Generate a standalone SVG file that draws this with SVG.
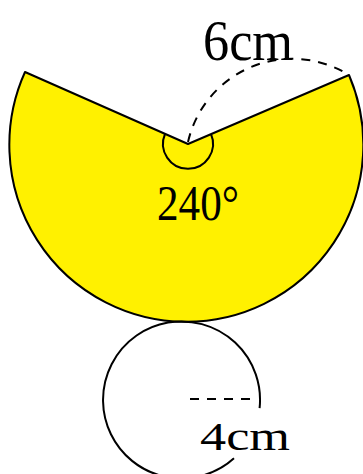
<svg xmlns="http://www.w3.org/2000/svg" width="363" height="474" viewBox="0 0 363 474">
<style>
.ln{fill:none;stroke:#000;stroke-width:2}
.ds{fill:none;stroke:#000;stroke-width:2;stroke-dasharray:9 8}
.t{font-family:"Liberation Serif","Times New Roman",serif;fill:#000}
</style>
<rect width="363" height="474" fill="#fff"/>
<g id="sector">
<path d="M 188 144 L 25 72 A 177 177 0 1 0 349 75 Z" fill="#FFF100" stroke="#000" stroke-width="2" stroke-linejoin="round"/>
<path class="ln" d="M 165 134 A 25 25 0 1 0 211 134"/>
<text class="t" x="157" y="220" font-size="50" textLength="82" lengthAdjust="spacingAndGlyphs">240°</text>
</g>
<g id="circle">
<path class="ln" d="M 259.6 408.2 A 78.5 78.5 0 1 0 234 458.3"/>
<text class="t" x="200" y="450" font-size="40" textLength="90" lengthAdjust="spacingAndGlyphs">4cm</text>
</g>
<g id="connectors">
<path class="ds" d="M 188 142 A 107 107 0 0 1 349 75"/>
<path class="ds" d="M 190 399 L 255 399" stroke-dasharray="10 9"/>
</g>
<g id="label6">
<text class="t" x="203" y="60" font-size="56" textLength="90" lengthAdjust="spacingAndGlyphs">6cm</text>
</g>
</svg>
